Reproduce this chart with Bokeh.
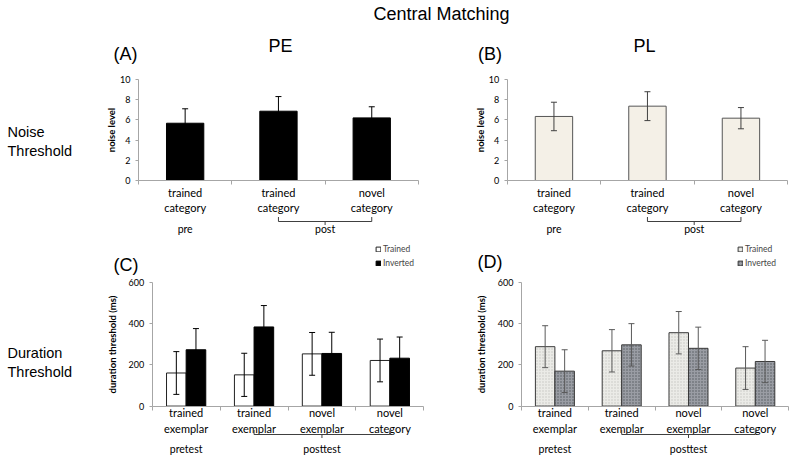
from bokeh.plotting import figure
from bokeh.models import (Range1d, LinearAxis, FixedTicker, ColumnDataSource,
                          Whisker, TeeHead, Legend, LegendItem)
from bokeh.layouts import column, row
from bokeh.embed import file_html
from bokeh.resources import INLINE
from bokeh.core.properties import value

# ---------------- data ----------------
title_text = "Central Matching"
row_labels = ["Noise\nThreshold", "Duration\nThreshold"]
panel_letters = ["(A)", "(B)", "(C)", "(D)"]
method_titles = ["PE", "PL"]

noise_cats = ["trained\ncategory", "trained\ncategory", "novel\ncategory"]
noise_phases = ["pre", "post"]
noise_ylabel = "noise level"
noise_ticks = [0, 2, 4, 6, 8, 10]
pe_mean = [5.67, 6.86, 6.20]
pe_err = [1.43, 1.45, 1.10]
pl_mean = [6.34, 7.36, 6.17]
pl_err = [1.41, 1.43, 1.05]

dur_cats = ["trained\nexemplar", "trained\nexemplar", "novel\nexemplar", "novel\ncategory"]
dur_phases = ["pretest", "posttest"]
dur_ylabel = "duration threshold (ms)"
dur_ticks = [0, 200, 400, 600]
series_names = ["Trained", "Inverted"]
c_trained = [161, 152, 254, 222]
c_trained_err = [104, 105, 104, 104]
c_inverted = [274, 385, 256, 233]
c_inverted_err = [103, 104, 103, 103]
d_trained = [289, 269, 357, 185]
d_trained_err = [102, 103, 103, 104]
d_inverted = [170, 298, 281, 217]
d_inverted_err = [104, 103, 103, 103]

SANS = "Liberation Sans"
CAL = "Lato"
AXIS_GRAY = "#a6a6a6"


class Geo:
    """Figure geometry: canvas px of figure box, axis origin and scales."""
    def __init__(self, left, top, w, h, ax_px, unit, y0, ppu):
        self.left, self.top, self.w, self.h = left, top, w, h
        self.unit, self.y0, self.ppu = unit, y0, ppu
        self.xs = 0.5 - (ax_px - left) / unit

    def X(self, cx):
        return self.xs + (cx - self.left) / self.unit

    def Y(self, cy):
        return (self.y0 - cy) / self.ppu


def base_panel(g, n, ymax, yticks, ylabel, lab_standoff):
    p = figure(width=g.w, height=g.h,
               x_range=Range1d(g.xs, g.xs + g.w / g.unit),
               y_range=Range1d(g.Y(g.top + g.h), g.Y(g.top)),
               x_axis_type=None, y_axis_type=None, output_backend="svg",
               toolbar_location=None, min_border=0, outline_line_color=None)
    yax = LinearAxis(fixed_location=0.5, bounds=(0, ymax),
                     ticker=FixedTicker(ticks=yticks),
                     axis_line_color=AXIS_GRAY, major_tick_line_color=AXIS_GRAY,
                     major_tick_in=0, major_tick_out=3, minor_tick_line_color=None,
                     major_label_text_font=CAL, major_label_text_font_size="9px",
                     major_label_text_color="black", major_label_standoff=5,
                     axis_label=ylabel, axis_label_text_font=CAL,
                     axis_label_text_font_size="9.5px", axis_label_text_font_style="bold",
                     axis_label_text_color="black", axis_label_standoff=lab_standoff)
    p.add_layout(yax, "left")
    xt = [i + 0.5 for i in range(n + 1)]
    xax = LinearAxis(fixed_location=0, bounds=(0.5, n + 0.5),
                     ticker=FixedTicker(ticks=xt),
                     major_label_overrides={t: "" for t in xt},
                     axis_line_color=AXIS_GRAY, major_tick_line_color=AXIS_GRAY,
                     major_tick_in=0, major_tick_out=4, minor_tick_line_color=None)
    p.add_layout(xax, "below")
    return p


def add_whiskers(p, xs, vals, errs, color):
    src = ColumnDataSource(dict(x=xs,
                                upper=[v + e for v, e in zip(vals, errs)],
                                lower=[v - e for v, e in zip(vals, errs)]))
    w = Whisker(source=src, base="x", upper="upper", lower="lower",
                line_color=color, line_width=1, level="annotation",
                upper_head=TeeHead(size=6, line_color=color, line_width=1),
                lower_head=TeeHead(size=6, line_color=color, line_width=1))
    p.add_layout(w)


def add_cat_labels(p, g, cats, phases, cat_cy, br_cy, br_up, br_dn, ph_cy):
    n = len(cats)
    xs = [i + 1 for i in range(n)]
    p.text(x=xs, y=[g.Y(cat_cy)] * n, text=cats, text_font=value(CAL),
           text_font_size="11px", text_align="center", text_baseline="middle",
           text_line_height=1.2, text_color="black")
    # bracket over the post-test categories
    x0, x1 = 2, n
    xm = (x0 + x1) / 2
    yb = g.Y(br_cy)
    p.segment(x0=[x0, x0, x1, xm], y0=[yb, yb, yb, yb],
              x1=[x1, x0, x1, xm], y1=[yb, g.Y(br_up), g.Y(br_up), g.Y(br_dn)],
              line_color="#404040", line_width=1)
    p.text(x=[1, xm], y=[g.Y(ph_cy)] * 2, text=phases, text_font=value(CAL),
           text_font_size="10.5px", text_align="center", text_baseline="middle",
           text_color="black")


def add_text(p, x, y, t, size, align="center"):
    p.text(x=[x], y=[y], text=[t], text_font=value(SANS), text_font_size=size,
           text_align=align, text_baseline="middle", text_color="black",
           text_line_height=1.2)


# ---------------- title strip ----------------
pt = figure(width=800, height=32, x_range=Range1d(0, 800), y_range=Range1d(0, 32),
            x_axis_type=None, y_axis_type=None, output_backend="svg",
            toolbar_location=None, min_border=0, outline_line_color=None)
add_text(pt, 441, 32 - 13.5, title_text, "18px")

# ---------------- panel A ----------------
gA = Geo(0, 32, 448, 210, 138, 93.3, 180, 10.1)
pA = base_panel(gA, 3, 10, noise_ticks, noise_ylabel, 0)
xs3 = [1, 2, 3]
pA.vbar(x=xs3, top=pe_mean, width=0.4, fill_color="black", line_color="black")
add_whiskers(pA, xs3, pe_mean, pe_err, "black")
add_cat_labels(pA, gA, noise_cats, noise_phases, 199.5, 221, 216.5, 224.5, 228.5)
add_text(pA, gA.X(125), gA.Y(53.5), panel_letters[0], "18px")
add_text(pA, gA.X(280), gA.Y(45), method_titles[0], "18px")
add_text(pA, gA.X(7), gA.Y(141), row_labels[0], "14.5px", align="left")

# ---------------- panel B ----------------
gB = Geo(448, 32, 352, 210, 506.7, 93.5, 180, 10.1)
pB = base_panel(gB, 3, 10, noise_ticks, noise_ylabel, 0)
pB.vbar(x=xs3, top=pl_mean, width=0.4, fill_color="#f4f0e7", line_color="#555555")
add_whiskers(pB, xs3, pl_mean, pl_err, "#404040")
add_cat_labels(pB, gB, noise_cats, noise_phases, 199.5, 221, 216.5, 224.5, 228.5)
add_text(pB, gB.X(489.5), gB.Y(53.5), panel_letters[1], "18px")
add_text(pB, gB.X(644), gB.Y(45), method_titles[1], "18px")

# ---------------- panel C ----------------
dodge = 0.1445
bw = 0.289
xs4 = [1, 2, 3, 4]
xl = [x - dodge for x in xs4]
xr = [x + dodge for x in xs4]

gC = Geo(0, 242, 448, 221, 151.7, 67.9, 405.6, 0.2056)
pC = base_panel(gC, 4, 600, dur_ticks, dur_ylabel, 8)
rC1 = pC.vbar(x=xl, top=c_trained, width=bw, fill_color="white", line_color="#222222")
rC2 = pC.vbar(x=xr, top=c_inverted, width=bw, fill_color="black", line_color="black")
add_whiskers(pC, xl, c_trained, c_trained_err, "black")
add_whiskers(pC, xr, c_inverted, c_inverted_err, "black")
add_cat_labels(pC, gC, dur_cats, dur_phases, 420, 434, 429.5, 437.5, 448.5)
add_text(pC, gC.X(125.5), gC.Y(264), panel_letters[2], "18px")
add_text(pC, gC.X(7), gC.Y(361.7), row_labels[1], "14.5px", align="left")
legC = Legend(items=[LegendItem(label=series_names[0], renderers=[rC1]),
                     LegendItem(label=series_names[1], renderers=[rC2])],
              location=(375 - 0, 463 - 269), orientation="vertical",
              label_text_font=CAL, label_text_font_size="8.5px",
              glyph_width=6, glyph_height=6, label_height=12, label_standoff=2,
              spacing=2, padding=0, margin=0, border_line_color=None,
              background_fill_alpha=0)
pC.add_layout(legC)

# ---------------- panel D ----------------
gD = Geo(448, 242, 352, 221, 521, 66.8, 405.6, 0.2056)
pD = base_panel(gD, 4, 600, dur_ticks, dur_ylabel, 8)
bwD = 0.292
dD = 0.146
xlD = [x - dD for x in xs4]
xrD = [x + dD for x in xs4]
rD1 = pD.vbar(x=xlD, top=d_trained, width=bwD, fill_color="#ebebe7",
              line_color="#3a3a3a", hatch_pattern="dot", hatch_color="#c4c4bf",
              hatch_scale=3, hatch_weight=1)
rD2 = pD.vbar(x=xrD, top=d_inverted, width=bwD, fill_color="#9a9da4",
              line_color="#3a3a3a", hatch_pattern="dot", hatch_color="#55585f",
              hatch_scale=3, hatch_weight=1.2)
add_whiskers(pD, xlD, d_trained, d_trained_err, "#5a5a5a")
add_whiskers(pD, xrD, d_inverted, d_inverted_err, "#5a5a5a")
add_cat_labels(pD, gD, dur_cats, dur_phases, 420, 434, 429.5, 437.5, 448.5)
add_text(pD, gD.X(489.5), gD.Y(261), panel_letters[3], "18px")
legD = Legend(items=[LegendItem(label=series_names[0], renderers=[rD1]),
                     LegendItem(label=series_names[1], renderers=[rD2])],
              location=(737 - 448, 463 - 269), orientation="vertical",
              label_text_font=CAL, label_text_font_size="8.5px",
              glyph_width=6, glyph_height=6, label_height=12, label_standoff=2,
              spacing=2, padding=0, margin=0, border_line_color=None,
              background_fill_alpha=0)
pD.add_layout(legD)

layout = column(pt, row(pA, pB), row(pC, pD))

open("out.html", "w").write(file_html(layout, INLINE))
